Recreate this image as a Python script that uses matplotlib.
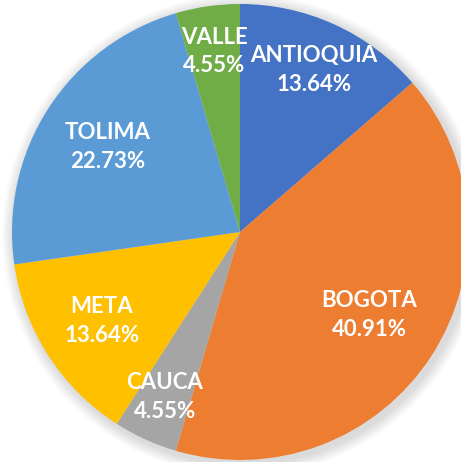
import numpy as np
import matplotlib.pyplot as plt
from matplotlib.patches import Circle

# Data
departments = ["ANTIOQUIA", "BOGOTA", "CAUCA", "META", "TOLIMA", "VALLE"]
counts = [3, 9, 1, 3, 5, 1]
colors = ["#4472C4", "#ED7D31", "#A5A5A5", "#FFC000", "#5B9BD5", "#70AD47"]
label_radius = [0.78, 0.675, 0.795, 0.72, 0.69, 0.80]

W, H = 461, 462
cx, cy, R = 240, H - 232, 228

fig = plt.figure(figsize=(W / 100, H / 100), dpi=100)
ax = fig.add_axes([0, 0, 1, 1])

# soft shadow around the pie
for i in range(12):
    ax.add_patch(Circle((cx + 3, cy - 3), R + 2 + i, color="#000000",
                        alpha=0.012, lw=0, zorder=0))

wedges, _ = ax.pie(counts, colors=colors, startangle=90, counterclock=False,
                   center=(cx, cy), radius=R, frame=True,
                   wedgeprops=dict(linewidth=0))
ax.set_xlim(0, W)
ax.set_ylim(0, H)
ax.set_aspect("equal")
ax.axis("off")

total = sum(counts)
for w, name, c, rf in zip(wedges, departments, counts, label_radius):
    ang = np.deg2rad((w.theta1 + w.theta2) / 2)
    x = cx + rf * R * np.cos(ang)
    y = cy + rf * R * np.sin(ang)
    ax.text(x, y, f"{name}\n{c / total * 100:.2f}%", ha="center", va="center",
            color="white", fontsize=16, fontweight="bold", family="Lato",
            linespacing=1.45, zorder=5)

plt.savefig("out.png", dpi=100)
